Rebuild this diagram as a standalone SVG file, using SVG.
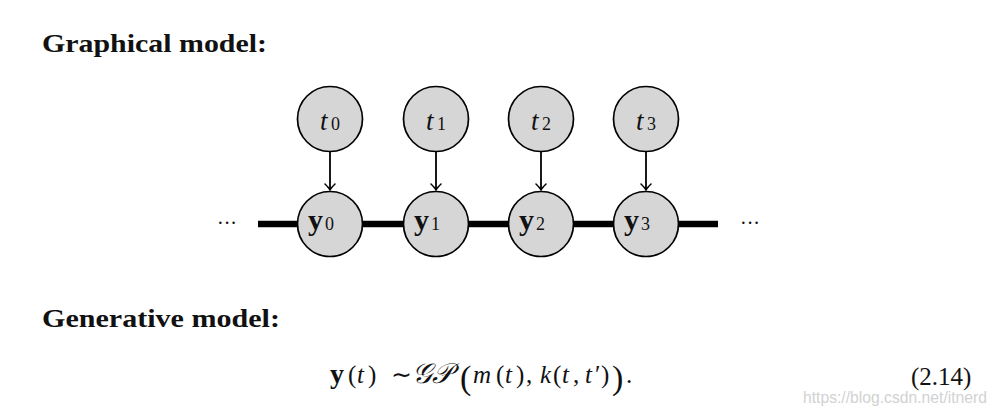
<svg xmlns="http://www.w3.org/2000/svg" width="996" height="415" viewBox="0 0 996 415">
<defs>
<style>
.head{font-family:"Liberation Serif",serif;font-weight:bold;font-size:25px;fill:#111;}
.node circle{fill:#d6d6d6;stroke:#000;stroke-width:1.7;}
.lbl{font-family:"Liberation Serif",serif;fill:#111;}
.it{font-style:italic;}
.m{font-family:"Liberation Serif",serif;font-size:25px;fill:#111;}
.big{font-family:"Liberation Serif",serif;font-size:34px;fill:#111;}
.arrow{stroke:#000;stroke-width:1.8;fill:none;}
.chain{stroke:#000;stroke-width:6.5;}
.dots{font-family:"Liberation Serif",serif;font-size:20px;fill:#111;}
.wm{font-family:"Liberation Sans",sans-serif;font-size:17px;fill:#d2d2d2;}
</style>
<marker id="ah" viewBox="-6 -6 8 12" refX="1" refY="0" markerWidth="8" markerHeight="12" markerUnits="userSpaceOnUse" orient="auto">
<path d="M-5,-5 Q-1,-1 1,0 Q-1,1 -5,5" fill="none" stroke="#000" stroke-width="1.5" stroke-linecap="round"/>
</marker>
</defs>
<rect width="996" height="415" fill="#fff"/>
<text class="head" x="42" y="52" textLength="225" lengthAdjust="spacingAndGlyphs">Graphical model:</text>
<g id="connectors">
<line class="chain" x1="258" y1="224" x2="718" y2="224"/>
<line class="arrow" x1="330" y1="152" x2="330" y2="190" marker-end="url(#ah)"/>
<line class="arrow" x1="436" y1="152" x2="436" y2="190" marker-end="url(#ah)"/>
<line class="arrow" x1="541" y1="152" x2="541" y2="190" marker-end="url(#ah)"/>
<line class="arrow" x1="646" y1="152" x2="646" y2="190" marker-end="url(#ah)"/>
</g>
<text class="dots" x="217" y="230">···</text>
<text class="dots" x="740" y="230">···</text>
<g id="t0" class="node"><circle cx="330" cy="119" r="32.5"/><text class="lbl" y="130"><tspan class="it" x="320" font-size="27">t</tspan><tspan x="331" font-size="18">0</tspan></text></g>
<g id="t1" class="node"><circle cx="436" cy="119" r="32.5"/><text class="lbl" y="130"><tspan class="it" x="426" font-size="27">t</tspan><tspan x="437" font-size="18">1</tspan></text></g>
<g id="t2" class="node"><circle cx="541" cy="119" r="32.5"/><text class="lbl" y="130"><tspan class="it" x="531" font-size="27">t</tspan><tspan x="542" font-size="18">2</tspan></text></g>
<g id="t3" class="node"><circle cx="646" cy="119" r="32.5"/><text class="lbl" y="130"><tspan class="it" x="636" font-size="27">t</tspan><tspan x="647" font-size="18">3</tspan></text></g>
<g id="y0" class="node"><circle cx="330" cy="224" r="32.5"/><text class="lbl" y="230"><tspan x="308" font-size="30" font-weight="bold">y</tspan><tspan x="325" font-size="18">0</tspan></text></g>
<g id="y1" class="node"><circle cx="436" cy="224" r="32.5"/><text class="lbl" y="230"><tspan x="414" font-size="30" font-weight="bold">y</tspan><tspan x="431" font-size="18">1</tspan></text></g>
<g id="y2" class="node"><circle cx="541" cy="224" r="32.5"/><text class="lbl" y="230"><tspan x="519" font-size="30" font-weight="bold">y</tspan><tspan x="536" font-size="18">2</tspan></text></g>
<g id="y3" class="node"><circle cx="646" cy="224" r="32.5"/><text class="lbl" y="230"><tspan x="624" font-size="30" font-weight="bold">y</tspan><tspan x="641" font-size="18">3</tspan></text></g>
<text class="head" x="42" y="327" textLength="238" lengthAdjust="spacingAndGlyphs">Generative model:</text>
<g id="equation">
<text class="m" y="383"><tspan x="330" font-weight="bold" font-size="28">y</tspan><tspan x="348">(</tspan><tspan x="357" font-style="italic">t</tspan><tspan x="368">)</tspan><tspan x="391">∼</tspan><tspan x="412" font-family="DejaVu Serif, serif" font-style="italic" font-size="28">𝒢𝒫</tspan></text>
<text class="big" x="460" y="389">(</text>
<text class="m" y="383"><tspan x="473" font-style="italic">m</tspan><tspan x="496">(</tspan><tspan x="505" font-style="italic">t</tspan><tspan x="516">)</tspan><tspan x="526">,</tspan><tspan x="540" font-style="italic">k</tspan><tspan x="553">(</tspan><tspan x="562" font-style="italic">t</tspan><tspan x="573">,</tspan><tspan x="585" font-style="italic">t</tspan><tspan x="595">′</tspan><tspan x="601">)</tspan></text>
<text class="big" x="612" y="389">)</text>
<text class="m" x="626" y="383">.</text>
</g>
<text class="m" x="911" y="385">(2.14)</text>
<text class="wm" x="803" y="403" textLength="184" lengthAdjust="spacingAndGlyphs">https://blog.csdn.net/itnerd</text>
</svg>
